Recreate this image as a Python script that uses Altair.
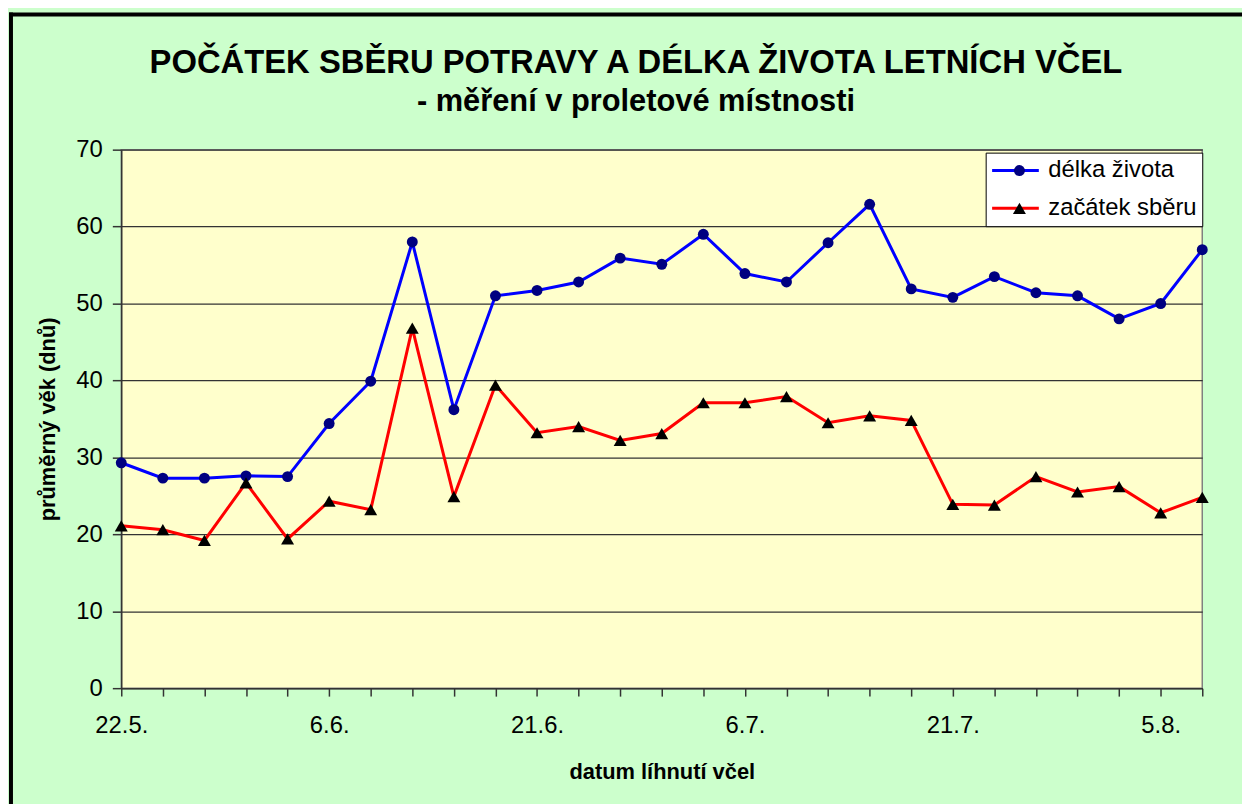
import altair as alt
import pandas as pd

# ---- data ----
dates = ["22.5.", "25.5.", "28.5.", "31.5.", "3.6.", "6.6.", "9.6.", "12.6.", "15.6.",
         "18.6.", "21.6.", "24.6.", "27.6.", "30.6.", "3.7.", "6.7.", "9.7.", "12.7.",
         "15.7.", "18.7.", "21.7.", "24.7.", "27.7.", "30.7.", "2.8.", "5.8.", "8.8."]
shown_labels = ["22.5.", "6.6.", "21.6.", "6.7.", "21.7.", "5.8."]
delka_zivota = [29.3, 27.3, 27.3, 27.6, 27.5, 34.4, 39.9, 58.0, 36.2, 51.0, 51.7, 52.8, 55.9,
                55.1, 59.0, 53.9, 52.8, 57.9, 62.9, 51.9, 50.8, 53.5, 51.4, 51.0, 48.0, 50.0, 57.0]
zacatek_sberu = [21.1, 20.6, 19.2, 26.7, 19.4, 24.3, 23.2, 46.8, 24.9, 39.4, 33.2, 34.0, 32.2,
                 33.1, 37.1, 37.1, 37.9, 34.5, 35.4, 34.8, 23.9, 23.8, 27.5, 25.5, 26.2, 22.8, 24.8]
series_names = ["délka života", "začátek sběru"]
line_colors = ["#0000FF", "#FF0000"]
marker_colors = ["#000080", "#000000"]
marker_shapes = ["circle", "triangle-up"]
marker_sizes = [121, 170]

rows = []
for values, name in ((delka_zivota, series_names[0]), (zacatek_sberu, series_names[1])):
    for d, v in zip(dates, values):
        rows.append({"datum": d, "serie": name, "znacka": name, "hodnota": v})
df = pd.DataFrame(rows)

FONT = "Liberation Sans"
label_expr = "indexof(" + str(shown_labels) + ", datum.value) >= 0 ? datum.label : ''"

x_enc = alt.X(
    "datum:O", sort=dates,
    scale=alt.Scale(type="point", padding=0),
    axis=alt.Axis(
        title="datum líhnutí včel", labelExpr=label_expr, labelAngle=0, labelOverlap=False,
        labelFont=FONT, labelFontSize=24, labelColor="black", labelPadding=18,
        tickSize=8, tickColor="#333333", tickWidth=1.5,
        domainColor="#333333", domainWidth=1.5, grid=False,
        titleFont=FONT, titleFontSize=22, titleFontWeight="bold", titleColor="black",
        titlePadding=24,
    ),
)
y_enc = alt.Y(
    "hodnota:Q",
    scale=alt.Scale(domain=[0, 70], nice=False),
    axis=alt.Axis(
        title="průměrný věk (dnů)", values=list(range(0, 71, 10)),
        labelFont=FONT, labelFontSize=24, labelColor="black", labelPadding=10,
        tickSize=9, tickColor="#333333", tickWidth=1.5,
        domainColor="#333333", domainWidth=1.5,
        grid=True, gridColor="#333333", gridWidth=1.3,
        titleFont=FONT, titleFontSize=22, titleFontWeight="bold", titleColor="black",
        titlePadding=17,
    ),
)

LEG_X, LEG_Y = 870, 3

# line legend (white box, coloured strokes and labels)
lines = alt.Chart(df).mark_line(strokeWidth=3).encode(
    x=x_enc, y=y_enc,
    stroke=alt.Stroke(
        "serie:N",
        scale=alt.Scale(domain=series_names, range=line_colors),
        legend=alt.Legend(
            title=None, orient="none", legendX=LEG_X, legendY=LEG_Y,
            symbolType="stroke", symbolSize=2209, symbolStrokeWidth=3,
            labelFont=FONT, labelFontSize=24, labelColor="black", labelOffset=8,
            fillColor="white", strokeColor="black", padding=5,
            clipHeight=26, rowPadding=12, zindex=1,
        ),
    ),
)

# marker legend laid exactly over the line legend (markers only, no labels)
marker_legend = alt.Legend(
    title=None, orient="none", legendX=LEG_X, legendY=LEG_Y,
    symbolOffset=17, symbolStrokeWidth=0, labelExpr="''",
    labelFont=FONT, labelFontSize=24, labelOffset=0,
    padding=5, clipHeight=26, rowPadding=12, zindex=2,
)

points = alt.Chart(df).mark_point(filled=True, opacity=1).encode(
    x=x_enc, y=y_enc,
    shape=alt.Shape("znacka:N", scale=alt.Scale(range=marker_shapes), legend=marker_legend),
    fill=alt.Fill("znacka:N", scale=alt.Scale(range=marker_colors), legend=marker_legend),
    size=alt.Size("znacka:N", scale=alt.Scale(range=marker_sizes), legend=marker_legend),
)

frame_src = pd.DataFrame({"k": [0]})
frame_left = alt.Chart(frame_src).mark_rule(color="black", strokeWidth=4).encode(
    x=alt.value(-111), y=alt.value(-138), y2=alt.value(660)
)
frame_top = alt.Chart(frame_src).mark_rule(color="black", strokeWidth=4).encode(
    x=alt.value(-113), x2=alt.value(1130), y=alt.value(-136)
)

chart = alt.layer(lines, points, frame_left, frame_top).properties(
    width=1088, height=542,
    autosize=alt.AutoSizeParams(type="none"),
    padding={"left": 114, "top": 140, "right": 40, "bottom": 114},
    background="#CCFFCC",
    title=alt.TitleParams(
        text="POČÁTEK SBĚRU POTRAVY A DÉLKA ŽIVOTA LETNÍCH VČEL",
        subtitle="- měření v proletové místnosti",
        font=FONT, fontSize=33, fontWeight="bold", color="black",
        subtitleFont=FONT, subtitleFontSize=31, subtitleFontWeight="bold", subtitleColor="black",
        subtitlePadding=7, anchor="middle", frame="group", dx=-26, offset=-107,
    ),
).configure_view(
    fill="#FFFFCC", stroke="#808080", strokeWidth=1.5
)

chart.save("out.html", embed_options={"renderer": "svg", "actions": False})
